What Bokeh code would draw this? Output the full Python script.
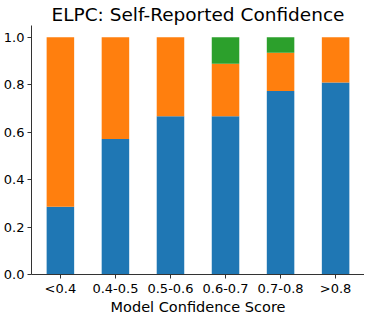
from bokeh.plotting import figure
from bokeh.models import Range1d, FixedTicker, ColumnDataSource
from bokeh.embed import file_html
from bokeh.resources import INLINE

categories = ["<0.4", "0.4-0.5", "0.5-0.6", "0.6-0.7", "0.7-0.8", ">0.8"]
blue_vals = [0.286, 0.571, 0.667, 0.667, 0.774, 0.810]
orange_vals = [0.714, 0.429, 0.333, 0.222, 0.161, 0.190]
green_vals = [0.0, 0.0, 0.0, 0.111, 0.065, 0.0]
yticks = [0.0, 0.2, 0.4, 0.6, 0.8, 1.0]
title_text = "ELPC: Self-Reported Confidence"

xs = list(range(len(categories)))
source = ColumnDataSource(dict(x=xs, blue=blue_vals, orange=orange_vals, green=green_vals))

p = figure(frame_width=333, frame_height=249, output_backend="svg", toolbar_location=None,
           x_range=Range1d(-0.525, 5.525), y_range=Range1d(0, 1.05),
           min_border_left=26, min_border_right=0, min_border_top=0, min_border_bottom=0,
           title=title_text)
p.title.text_font = "DejaVu Sans"
p.title.text_font_size = "18.5px"
p.title.text_font_style = "normal"
p.title.text_color = "black"
p.title.align = "center"
p.title.standoff = 2
p.title.offset = 0

p.vbar_stack(["blue", "orange", "green"], x="x", width=0.5, source=source,
             color=["#1f77b4", "#ff7f0e", "#2ca02c"], line_color=None)

p.xaxis.ticker = FixedTicker(ticks=xs)
p.xaxis.major_label_overrides = {i: c for i, c in enumerate(categories)}
p.yaxis.ticker = FixedTicker(ticks=yticks)
p.yaxis.major_label_overrides = {t: f"{t:.1f}" for t in yticks}
p.xaxis.axis_label = "Model Confidence Score"
for ax in (p.xaxis, p.yaxis):
    ax.axis_line_color = "#333333"
    ax.major_tick_line_color = "#333333"
    ax.major_tick_out = 4
    ax.major_tick_in = 0
    ax.minor_tick_line_color = None
    ax.major_label_text_font = "DejaVu Sans"
    ax.major_label_text_font_size = "13px"
    ax.major_label_text_color = "black"
    ax.major_label_standoff = 3
    ax.axis_label_text_font = "DejaVu Sans"
    ax.axis_label_text_font_size = "14.5px"
    ax.axis_label_text_font_style = "normal"
    ax.axis_label_text_color = "black"
    ax.axis_label_standoff = 0
p.xaxis.major_label_standoff = 2
p.grid.visible = False
p.outline_line_color = None

open("out.html", "w").write(file_html(p, INLINE))
